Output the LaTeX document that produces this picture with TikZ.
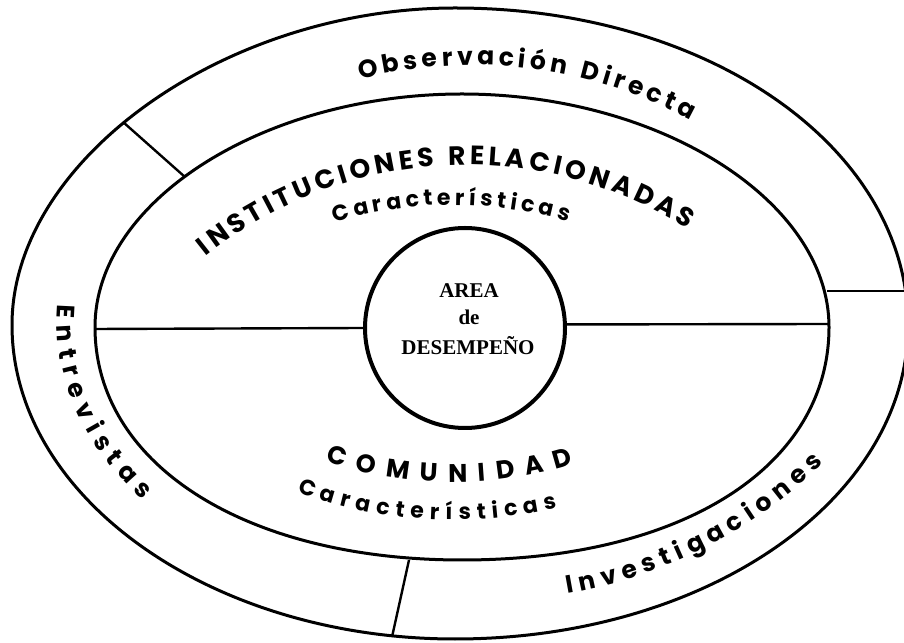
\documentclass[tikz,border=0pt]{standalone}
\usepackage{fontspec}
\setmainfont{Liberation Serif}
\newfontfamily\lab{Poppins}
\usetikzlibrary{decorations.text}
\begin{document}
\begin{tikzpicture}[x=1pt,y=1pt,
  band/.style={line width=3pt},
  divider/.style={line width=2.4pt},
  arctext/.style={decorate, decoration={text along path, text align=fit to path, text format delimiters={|}{|}, text={#1}}},
  centertext/.style={font=\fontsize{21}{21}\selectfont\bfseries, anchor=base, inner sep=0pt}
]
\fill[white] (0,0) rectangle (904,642);
\useasboundingbox (0,0) rectangle (904,642);
\begin{scope}[shift={(0,642)}, y=-1pt]
  % outer band
  \draw[band] (12,325) .. controls (12,160.2) and (224.6,8) .. (455,8)
    .. controls (708.7,8) and (908,147.5) .. (908,325)
    .. controls (908,499.3) and (706.4,639) .. (455,639)
    .. controls (211.3,639) and (12,497.7) .. cycle;
  % inner band
  \draw[band] (95,327) .. controls (95,201.2) and (263.8,94) .. (462,94)
    .. controls (660.2,94) and (829,201.2) .. (829,327)
    .. controls (829,466.8) and (682.2,560) .. (462,560)
    .. controls (245.5,560) and (95,464.5) .. cycle;
  % central circle
  \node[circle, draw, line width=4pt, minimum size=200pt, inner sep=0pt] (area) at (465,328) {};
  \node[centertext] (t1) at (469,298) {AREA};
  \node[centertext] (t2) at (469,325) {de};
  \node[centertext] (t3) at (468,355) {DESEMPEÑO};
  % divider end points
  \coordinate (ulO) at (123,122);
  \coordinate (ulI) at (185,177);
  \coordinate (rI) at (827,291);
  \coordinate (rO) at (907,291);
  \coordinate (bI) at (409,560);
  \coordinate (bO) at (392,637);
  \coordinate (hL) at (95,329);
  \coordinate (hR) at (829,324);
  \draw[divider] (ulO) -- (ulI);
  \draw[divider] (rI) -- (rO);
  \draw[divider] (bI) -- (bO);
  \draw[divider] (hL) -- (area.180);
  \draw[divider] (area.2.3) -- (hR);
\end{scope}
% curved labels (y up)
\path[arctext={|\lab\bfseries\fontsize{25}{25}\selectfont|Observación Directa}]
  ([shift={(104.3:457)}]473.3,120) arc[start angle=104.3, end angle=61.6, radius=457];
\path[arctext={|\lab\bfseries\fontsize{26.5}{26.5}\selectfont|INSTITUCIONES RELACIONADAS}]
  ([shift={(128.7:416)}]466,61) arc[start angle=128.7, end angle=57.8, radius=416];
\path[arctext={|\lab\bfseries\fontsize{22}{22}\selectfont|Características}]
  ([shift={(106.7:408)}]452,29) arc[start angle=106.7, end angle=73.5, radius=408];
\path[arctext={|\lab\bfseries\fontsize{25.5}{25.5}\selectfont|COMUNIDAD}]
  ([shift={(251.8:409)}]453,569) arc[start angle=251.8, end angle=287.1, radius=409];
\path[arctext={|\lab\bfseries\fontsize{22}{22}\selectfont|Características}]
  ([shift={(249.6:447)}]453,569) arc[start angle=249.6, end angle=283.5, radius=447];
\path[arctext={|\lab\bfseries\fontsize{25}{25}\selectfont|Entrevistas}]
  ([shift={(176.6:405 and 290)}]462,320) arc[start angle=176.6, end angle=218, x radius=405, y radius=290];
\path[arctext={|\lab\bfseries\fontsize{25}{25}\selectfont|Investigaciones}]
  ([shift={(279.8:483)}]485.3,524.1) arc[start angle=279.8, end angle=314.4, radius=483];
\end{tikzpicture}
\end{document}
